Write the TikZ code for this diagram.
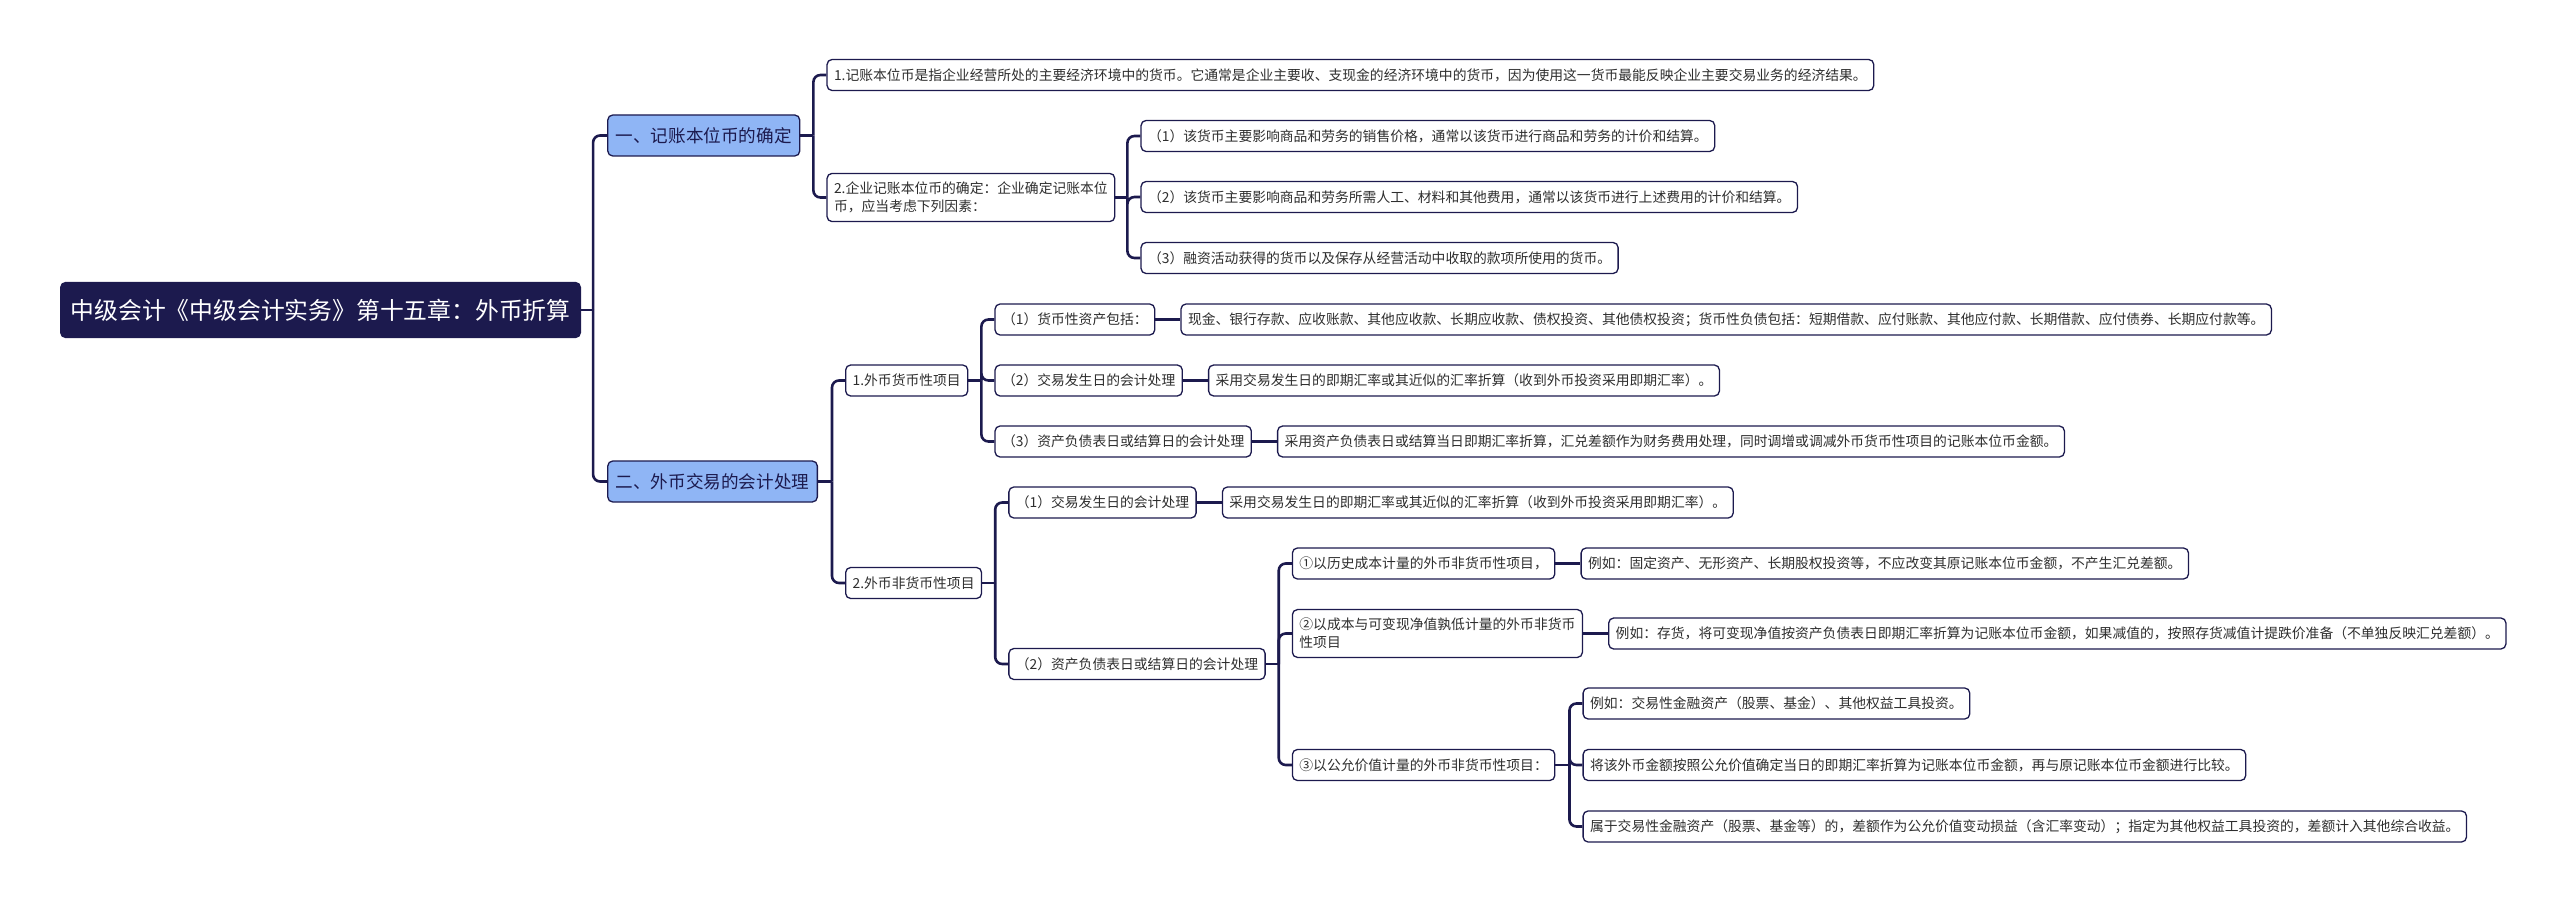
\documentclass[tikz,border=0pt]{standalone}
\usepackage{fontspec}
\setmainfont{Noto Sans CJK SC}
\usetikzlibrary{calc}
\usepackage{xcolor}
\definecolor{ink}{HTML}{1C1A4E}
\definecolor{sky}{HTML}{8FB5F5}
\definecolor{txt}{HTML}{2E2E2E}

\begin{document}
\begin{tikzpicture}[x=1pt,y=-1pt,
        box/.style={rectangle,rounded corners=5pt,draw=ink,line width=1.3pt,anchor=west,align=left},
        leaf/.style={box,fill=white,text=txt,font=\fontsize{13.8}{18}\selectfont,
                     inner xsep=7pt,inner ysep=8.5pt,minimum height=31pt},
        kid/.style={leaf,xshift=13pt},
        topic/.style={box,fill=sky,text=ink,font=\fontsize{17.6}{21}\selectfont,
                      inner xsep=8pt,minimum height=41pt,xshift=14pt},
        link/.style={draw=ink,line width=2.6pt,rounded corners=7pt}]
        \useasboundingbox (0,0) rectangle (2560,901);
        \node[box,fill=ink,text=white,font=\fontsize{23.8}{28}\selectfont,inner xsep=10pt,
              minimum height=55pt] (root) at (60,310) {中级会计《中级会计实务》第十五章：外币折算};
        \coordinate (rj) at ($(root.east)+(12,0)$);
        \node[topic] (A) at (rj |- 0,135.5) {一、记账本位币的确定};
        \node[topic] (B) at (rj |- 0,481.5) {二、外币交易的会计处理};

        \coordinate (aj) at ($(A.east)+(13,0)$);
        \node[kid] (A1) at (aj |- 0,75) {1.记账本位币是指企业经营所处的主要经济环境中的货币。它通常是企业主要收、支现金的经济环境中的货币，因为使用这一货币最能反映企业主要交易业务的经济结果。};
        \node[kid] (A2) at (aj |- 0,197.5) {2.企业记账本位币的确定：企业确定记账本位\\币，应当考虑下列因素：};
        \coordinate (a2j) at ($(A2.east)+(12,0)$);
        \node[kid] (A2a) at (a2j |- 0,136) {（1）该货币主要影响商品和劳务的销售价格，通常以该货币进行商品和劳务的计价和结算。};
        \node[kid] (A2b) at (a2j |- 0,197) {（2）该货币主要影响商品和劳务所需人工、材料和其他费用，通常以该货币进行上述费用的计价和结算。};
        \node[kid] (A2c) at (a2j |- 0,258) {（3）融资活动获得的货币以及保存从经营活动中收取的款项所使用的货币。};

        \coordinate (bj) at ($(B.east)+(14,0)$);
        \node[kid] (B1) at (bj |- 0,380.5) {1.外币货币性项目};
        \node[kid] (B2) at (bj |- 0,583) {2.外币非货币性项目};
        \coordinate (b1j) at ($(B1.east)+(13,0)$);
        \node[kid] (B1a) at (b1j |- 0,319.5) {（1）货币性资产包括：};
        \node[kid] (B1b) at (b1j |- 0,380.5) {（2）交易发生日的会计处理};
        \node[kid] (B1c) at (b1j |- 0,441.5) {（3）资产负债表日或结算日的会计处理};
        \node[leaf,right=25pt] (B1a1) at (B1a.east) {现金、银行存款、应收账款、其他应收款、长期应收款、债权投资、其他债权投资；货币性负债包括：短期借款、应付账款、其他应付款、长期借款、应付债券、长期应付款等。};
        \node[leaf,right=25pt] (B1b1) at (B1b.east) {采用交易发生日的即期汇率或其近似的汇率折算（收到外币投资采用即期汇率）。};
        \node[leaf,right=25pt] (B1c1) at (B1c.east) {采用资产负债表日或结算当日即期汇率折算，汇兑差额作为财务费用处理，同时调增或调减外币货币性项目的记账本位币金额。};

        \coordinate (b2j) at ($(B2.east)+(13,0)$);
        \node[kid] (B2a) at (b2j |- 0,502.5) {（1）交易发生日的会计处理};
        \node[kid] (B2b) at (b2j |- 0,664) {（2）资产负债表日或结算日的会计处理};
        \node[leaf,right=25pt] (B2a1) at (B2a.east) {采用交易发生日的即期汇率或其近似的汇率折算（收到外币投资采用即期汇率）。};
        \coordinate (b2bj) at ($(B2b.east)+(13,0)$);
        \node[kid] (M1) at (b2bj |- 0,563.5) {①以历史成本计量的外币非货币性项目，};
        \node[kid] (M2) at (b2bj |- 0,633.5) {②以成本与可变现净值孰低计量的外币非货币\\性项目};
        \node[kid] (M3) at (b2bj |- 0,765) {③以公允价值计量的外币非货币性项目：};
        \node[leaf,right=25pt] (M11) at (M1.east) {例如：固定资产、无形资产、长期股权投资等，不应改变其原记账本位币金额，不产生汇兑差额。};
        \node[leaf,right=25pt] (M21) at (M2.east) {例如：存货，将可变现净值按资产负债表日即期汇率折算为记账本位币金额，如果减值的，按照存货减值计提跌价准备（不单独反映汇兑差额）。};
        \coordinate (m3j) at ($(M3.east)+(14,0)$);
        \node[kid] (M31) at (m3j |- 0,703.5) {例如：交易性金融资产（股票、基金）、其他权益工具投资。};
        \node[kid] (M32) at (m3j |- 0,765) {将该外币金额按照公允价值确定当日的即期汇率折算为记账本位币金额，再与原记账本位币金额进行比较。};
        \node[kid] (M33) at (m3j |- 0,826.5) {属于交易性金融资产（股票、基金等）的，差额作为公允价值变动损益（含汇率变动）；指定为其他权益工具投资的，差额计入其他综合收益。};

        \draw[link] (root.east) -- (rj);
        \foreach \c in {A,B} \draw[link] (rj) |- (\c.west);
        \draw[link] (A.east) -- (aj);
        \foreach \c in {A1,A2} \draw[link] (aj) |- (\c.west);
        \draw[link] (A2.east) -- (a2j);
        \foreach \c in {A2a,A2b,A2c} \draw[link] (a2j) |- (\c.west);
        \draw[link] (B.east) -- (bj);
        \foreach \c in {B1,B2} \draw[link] (bj) |- (\c.west);
        \draw[link] (B1.east) -- (b1j);
        \foreach \c in {B1a,B1b,B1c} \draw[link] (b1j) |- (\c.west);
        \foreach \c in {B1a,B1b,B1c,B2a,M1,M2} \draw[link] (\c.east) -- (\c1.west);
        \draw[link] (B2.east) -- (b2j);
        \foreach \c in {B2a,B2b} \draw[link] (b2j) |- (\c.west);
        \draw[link] (B2b.east) -- (b2bj);
        \foreach \c in {M1,M2,M3} \draw[link] (b2bj) |- (\c.west);
        \draw[link] (M3.east) -- (m3j);
        \foreach \c in {M31,M32,M33} \draw[link] (m3j) |- (\c.west);
\end{tikzpicture}
\end{document}
